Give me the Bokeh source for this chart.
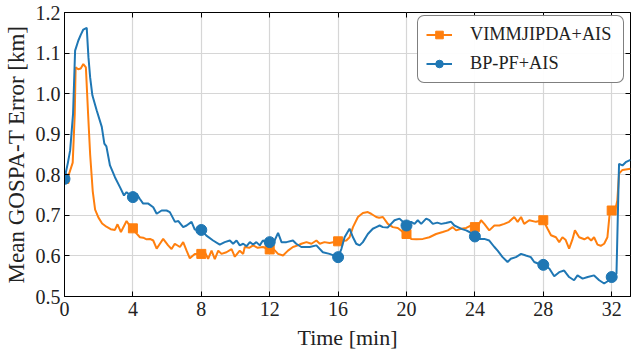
import numpy as np
from bokeh.plotting import figure
from bokeh.models import Range1d, FixedTicker, LinearAxis, Legend, LegendItem, NumeralTickFormatter
from bokeh.embed import file_html
from bokeh.resources import INLINE

# ---- data ----
vimm_t = [0, 0.25, 0.48, 0.6, 0.65, 0.8, 0.95, 1.1, 1.25, 1.38, 1.5, 1.65, 1.79, 1.98, 2.2, 2.45, 2.7, 2.95,
          3.1, 3.3, 3.63, 3.8, 4.0, 4.22, 4.41, 4.6, 4.8, 5.0, 5.19, 5.39, 5.58, 5.77, 6.06, 6.26, 6.45, 6.75,
          6.94, 7.14, 7.33, 7.62, 8.0, 8.2, 8.4, 8.6, 8.79, 8.99, 9.18, 9.47, 9.77, 9.96, 10.25, 10.45, 10.54,
          10.8, 11.03, 11.3, 11.6, 12.0, 12.2, 12.49, 12.78, 13.07, 13.36, 13.65, 13.85, 14.15, 14.44, 14.73,
          14.93, 15.2, 15.5, 16.0, 16.48, 16.67, 16.87, 17.16, 17.45, 17.74, 17.93, 18.23, 18.4, 18.62, 18.91,
          19.2, 19.49, 19.79, 20.0, 20.27, 20.57, 20.96, 21.34, 21.73, 22.12, 22.42, 22.7, 22.9, 23.2, 23.49,
          23.78, 24.0, 24.2, 24.36, 24.55, 24.84, 25.14, 25.43, 25.72, 26.0, 26.3, 26.5, 26.7, 26.88, 27.18,
          27.57, 28.0, 28.25, 28.45, 28.74, 28.93, 29.12, 29.3, 29.51, 29.7, 29.85, 30.1, 30.4, 30.6, 30.8,
          30.97, 31.17, 31.36, 31.56, 31.75, 31.89, 32.0, 32.2, 32.33, 32.43, 32.63, 33.1]
vimm_v = [0.79, 0.80, 0.83, 0.95, 1.065, 1.06, 1.062, 1.073, 1.065, 0.95, 0.85, 0.76, 0.714, 0.695, 0.68, 0.672,
          0.666, 0.664, 0.678, 0.659, 0.686, 0.675, 0.668, 0.655, 0.646, 0.645, 0.641, 0.642, 0.638, 0.618, 0.630,
          0.642, 0.626, 0.617, 0.630, 0.622, 0.634, 0.613, 0.594, 0.605, 0.605, 0.610, 0.593, 0.613, 0.592, 0.613,
          0.605, 0.609, 0.617, 0.598, 0.613, 0.605, 0.622, 0.620, 0.626, 0.620, 0.622, 0.616, 0.618, 0.605, 0.601,
          0.613, 0.622, 0.626, 0.630, 0.634, 0.630, 0.638, 0.630, 0.634, 0.632, 0.636, 0.638, 0.646, 0.671, 0.696,
          0.706, 0.708, 0.704, 0.696, 0.694, 0.696, 0.679, 0.671, 0.669, 0.659, 0.654, 0.642, 0.641, 0.642, 0.646,
          0.654, 0.659, 0.663, 0.671, 0.663, 0.667, 0.669, 0.675, 0.671, 0.675, 0.688, 0.679, 0.663, 0.675, 0.675,
          0.679, 0.684, 0.696, 0.684, 0.696, 0.679, 0.688, 0.684, 0.688, 0.667, 0.651, 0.646, 0.634, 0.646, 0.640,
          0.618, 0.640, 0.663, 0.646, 0.641, 0.646, 0.638, 0.646, 0.628, 0.625, 0.630, 0.646, 0.708, 0.712, 0.712,
          0.737, 0.803, 0.812, 0.815]

bp_t = [0, 0.2, 0.33, 0.5, 0.62, 0.81, 0.95, 1.1, 1.3, 1.4, 1.5, 1.63, 1.88, 2.18, 2.33, 2.45, 2.66, 2.95, 3.25,
        3.48, 3.63, 3.83, 4.0, 4.22, 4.4, 4.6, 4.9, 5.19, 5.39, 5.68, 5.97, 6.16, 6.46, 6.66, 6.94, 7.14, 7.43,
        7.62, 8.0, 8.3, 8.69, 9.08, 9.37, 9.67, 9.86, 10.06, 10.25, 10.45, 10.65, 10.84, 11.03, 11.22, 11.42,
        11.6, 11.8, 12.0, 12.2, 12.49, 12.69, 12.98, 13.36, 13.55, 13.85, 14.34, 14.73, 15.11, 15.5, 16.0, 16.19,
        16.38, 16.67, 16.87, 17.06, 17.26, 17.45, 17.74, 18.03, 18.23, 18.43, 18.62, 18.9, 19.1, 19.3, 19.59,
        19.79, 20.0, 20.27, 20.47, 20.66, 20.86, 21.15, 21.34, 21.54, 21.8, 22.03, 22.3, 22.61, 22.8, 23.0, 23.25,
        23.49, 23.68, 24.0, 24.26, 24.55, 24.84, 25.14, 25.33, 25.62, 25.91, 26.1, 26.4, 26.7, 26.98, 27.27,
        27.47, 27.76, 28.0, 28.35, 28.64, 28.93, 29.22, 29.51, 29.8, 30.0, 30.3, 30.6, 30.97, 31.27, 31.56,
        31.85, 32.0, 32.28, 32.43, 32.63, 32.82, 33.1]
bp_v = [0.79, 0.83, 0.86, 0.95, 1.106, 1.131, 1.145, 1.158, 1.162, 1.09, 1.04, 0.996, 0.959, 0.918, 0.877, 0.870,
        0.823, 0.794, 0.769, 0.749, 0.757, 0.750, 0.745, 0.753, 0.741, 0.729, 0.729, 0.720, 0.704, 0.712, 0.712,
        0.708, 0.684, 0.686, 0.671, 0.675, 0.684, 0.665, 0.664, 0.650, 0.638, 0.628, 0.634, 0.638, 0.630, 0.638,
        0.626, 0.630, 0.624, 0.634, 0.628, 0.634, 0.626, 0.638, 0.634, 0.634, 0.630, 0.657, 0.634, 0.634, 0.638,
        0.630, 0.622, 0.622, 0.626, 0.609, 0.605, 0.597, 0.617, 0.646, 0.667, 0.646, 0.630, 0.626, 0.634, 0.654,
        0.667, 0.671, 0.675, 0.671, 0.670, 0.679, 0.688, 0.692, 0.684, 0.675, 0.684, 0.679, 0.688, 0.679, 0.692,
        0.688, 0.679, 0.682, 0.679, 0.681, 0.684, 0.675, 0.671, 0.666, 0.663, 0.659, 0.648, 0.642, 0.642, 0.638,
        0.622, 0.613, 0.597, 0.585, 0.593, 0.597, 0.605, 0.601, 0.597, 0.585, 0.580, 0.578, 0.569, 0.550, 0.560,
        0.564, 0.548, 0.540, 0.552, 0.544, 0.548, 0.552, 0.540, 0.532, 0.540, 0.548, 0.556, 0.827, 0.823, 0.831,
        0.837]

marker_times = [0, 4, 8, 12, 16, 20, 24, 28, 32]
x_ticks = [0, 4, 8, 12, 16, 20, 24, 28, 32]
y_ticks = [0.5, 0.6, 0.7, 0.8, 0.9, 1.0, 1.1, 1.2]

ORANGE = "#ff7f0e"
BLUE = "#1f77b4"
FONT = "Liberation Serif"

p = figure(width=631, height=354, output_backend="svg", toolbar_location=None,
           x_range=Range1d(0, 33.1), y_range=Range1d(0.5, 1.2),
           min_border_left=64, min_border_right=1, min_border_top=12, min_border_bottom=58)

p.background_fill_color = "white"
p.border_fill_color = "white"
p.outline_line_color = "black"
p.outline_line_width = 1

for ax in [p.xaxis[0], p.yaxis[0]]:
    ax.major_tick_in = 5
    ax.major_tick_out = 0
    ax.minor_tick_line_color = None
    ax.axis_line_color = "black"
    ax.major_tick_line_color = "black"
    ax.major_label_text_font = FONT
    ax.major_label_text_font_size = "20px"
    ax.major_label_text_color = "#222222"
    ax.axis_label_text_font = FONT
    ax.axis_label_text_font_style = "normal"
    ax.axis_label_text_color = "#222222"

p.xaxis[0].major_label_standoff = 5
p.yaxis[0].major_label_standoff = 4
p.xaxis[0].axis_label_text_font_size = "22px"
p.yaxis[0].axis_label_text_font_size = "23px"
p.xaxis[0].ticker = FixedTicker(ticks=x_ticks)
p.yaxis[0].ticker = FixedTicker(ticks=y_ticks)
p.yaxis[0].formatter = NumeralTickFormatter(format="0.0")
p.xaxis[0].axis_label = "Time [min]"
p.yaxis[0].axis_label = "Mean GOSPA-T Error [km]"
p.xaxis[0].axis_label_standoff = 6
p.yaxis[0].axis_label_standoff = 4

top = LinearAxis(ticker=FixedTicker(ticks=x_ticks), major_label_text_font_size="10px",
                 major_label_overrides={t: "" for t in x_ticks},
                 major_tick_in=5, major_tick_out=0, minor_tick_line_color=None,
                 major_label_standoff=0, axis_line_color=None)
right = LinearAxis(ticker=FixedTicker(ticks=y_ticks), major_label_text_font_size="10px",
                   major_label_overrides={t: "" for t in y_ticks},
                   major_tick_in=5, major_tick_out=0, minor_tick_line_color=None,
                   major_label_standoff=0, axis_line_color=None)
p.add_layout(top, "above")
p.add_layout(right, "right")

p.xgrid.ticker = FixedTicker(ticks=x_ticks)
p.ygrid.ticker = FixedTicker(ticks=y_ticks)
p.grid.grid_line_color = "#d6d6d6"
p.grid.grid_line_width = 1.2

vt = np.array(vimm_t); vv = np.array(vimm_v)
bt = np.array(bp_t); bv = np.array(bp_v)
vm = np.isin(vt, marker_times)
bm = np.isin(bt, marker_times)

l1 = p.line(vt, vv, line_color=ORANGE, line_width=2)
s1 = p.scatter(vt[vm], vv[vm], marker="square", size=9, fill_color=ORANGE, line_color=ORANGE)
l2 = p.line(bt, bv, line_color=BLUE, line_width=2)
s2 = p.scatter(bt[bm], bv[bm], marker="circle", size=11, fill_color=BLUE, line_color=BLUE)

legend = Legend(items=[LegendItem(label="VIMMJIPDA+AIS", renderers=[l1, s1]),
                       LegendItem(label="BP-PF+AIS", renderers=[l2, s2])],
                location=(353, 213))
legend.label_text_font = FONT
legend.label_text_font_size = "18.3px"
legend.label_text_color = "#222222"
legend.border_line_color = "black"
legend.border_line_width = 1
legend.border_radius = 7
legend.padding = 8
legend.spacing = 8
legend.glyph_width = 26
legend.glyph_height = 19
legend.label_height = 19
legend.label_width = 145
legend.label_standoff = 18
legend.margin = 0
p.add_layout(legend, "center")

open("out.html", "w").write(file_html(p, INLINE))
